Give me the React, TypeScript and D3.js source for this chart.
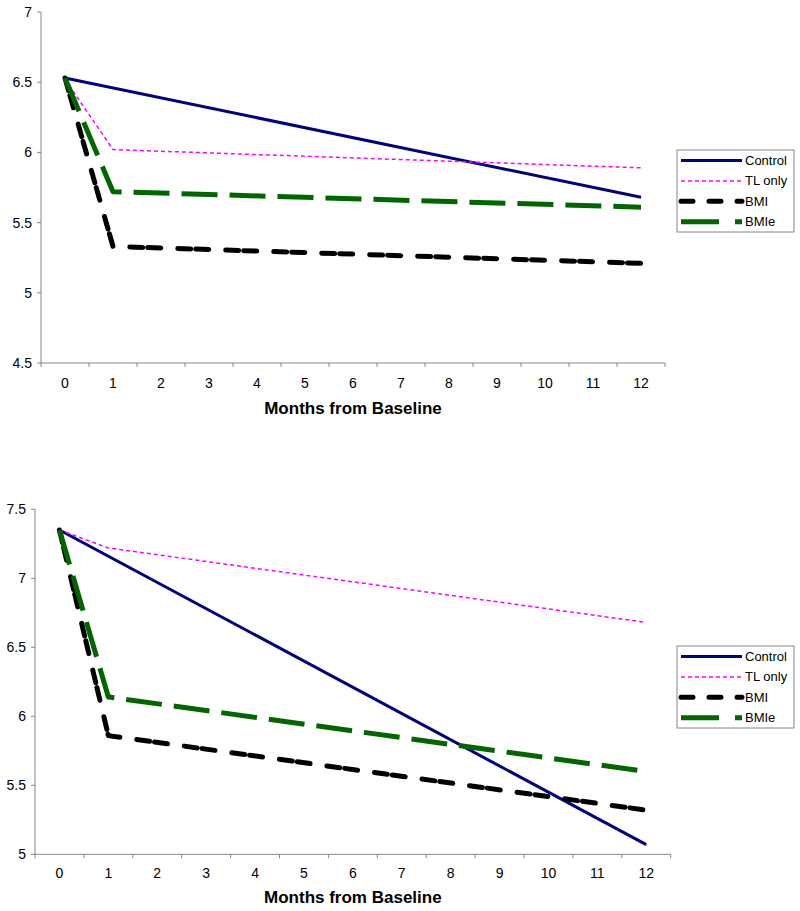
import React from "react";
import * as d3 from "d3";

const categories = ["0", "1", "2", "3", "4", "5", "6", "7", "8", "9", "10", "11", "12"];
const months = ["0", "1", "12"];
const seriesNames = ["Control", "TL only", "BMI", "BMIe"];

// Top panel
const topControl = [6.53, null, 5.68];
const topTL = [6.52, 6.02, 5.89];
const topBMI = [6.53, 5.33, 5.21];
const topBMIe = [6.53, 5.72, 5.61];
const topYTicks = [4.5, 5, 5.5, 6, 6.5, 7];

// Bottom panel
const botControl = [7.35, null, 5.07];
const botTL = [7.35, 7.22, 6.68];
const botBMI = [7.35, 5.86, 5.32];
const botBMIe = [7.35, 6.14, 5.6];
const botYTicks = [5, 5.5, 6, 6.5, 7, 7.5];

const styles = [
  { color: "#000080", width: 3, dash: "none", cap: "butt" },
  { color: "#ff00ff", width: 1.5, dash: "4,3", cap: "butt" },
  { color: "#000000", width: 5, dash: "13,5,13,17", cap: "round" },
  { color: "#006600", width: 5, dash: "36,12", cap: "butt" },
];
const legendDash = ["none", "4,3", "12,16", "38,16"];

const FONT = "Arial, 'Liberation Sans', sans-serif";

type PanelProps = {
  x0: number;
  x1: number;
  yTop: number;
  yBot: number;
  domain: [number, number];
  yTicks: number[];
  series: (number | null)[][];
  legendTop: number;
  labelY: number;
  titleY: number;
};

function Panel({ x0, x1, yTop, yBot, domain, yTicks, series, legendTop, labelY, titleY }: PanelProps) {
  const x = d3.scaleBand<string>().domain(categories).range([x0, x1]);
  const y = d3.scaleLinear().domain(domain).range([yBot, yTop]);
  const cx = (c: string) => (x(c) as number) + x.bandwidth() / 2;
  const line = d3
    .line<[string, number]>()
    .x((d) => cx(d[0]))
    .y((d) => y(d[1]));
  const edges = categories.map((_, i) => x0 + i * x.step()).concat([x1]);
  const legendX = 677;
  const legendW = 117;
  const rowH = 20.4;
  return (
    <g>
      <line x1={x0} x2={x0} y1={yTop} y2={yBot} stroke="#868686" strokeWidth={1} />
      <line x1={x0} x2={x1} y1={yBot} y2={yBot} stroke="#868686" strokeWidth={1} />
      {yTicks.map((t) => (
        <g key={t}>
          <line x1={x0 - 4} x2={x0} y1={y(t)} y2={y(t)} stroke="#868686" />
          <text x={x0 - 9} y={y(t) + 5} textAnchor="end" fontSize={14} fontFamily={FONT} fill="#000">
            {t}
          </text>
        </g>
      ))}
      {edges.map((e, i) => (
        <line key={i} x1={e} x2={e} y1={yBot} y2={yBot + 4} stroke="#868686" />
      ))}
      {categories.map((c) => (
        <text key={c} x={cx(c)} y={labelY} textAnchor="middle" fontSize={14} fontFamily={FONT} fill="#000">
          {c}
        </text>
      ))}
      <text x={(x0 + x1) / 2} y={titleY} textAnchor="middle" fontSize={17} fontWeight="bold" fontFamily={FONT}>
        Months from Baseline
      </text>
      {series.map((vals, i) => {
        const pts = months
          .map((m, j) => [m, vals[j]] as [string, number | null])
          .filter((d) => d[1] !== null) as [string, number][];
        const s = styles[i];
        return (
          <path
            key={i}
            d={line(pts) as string}
            fill="none"
            stroke={s.color}
            strokeWidth={s.width}
            strokeDasharray={s.dash}
            strokeLinecap={s.cap as any}
            strokeLinejoin="round"
          />
        );
      })}
      <rect x={legendX} y={legendTop} width={legendW} height={82} fill="#fff" stroke="#868686" strokeWidth={1} />
      {seriesNames.map((n, i) => {
        const s = styles[i];
        const ly = legendTop + 10.5 + i * rowH;
        return (
          <g key={n}>
            <line
              x1={681}
              x2={742}
              y1={ly}
              y2={ly}
              stroke={s.color}
              strokeWidth={s.width}
              strokeDasharray={legendDash[i]}
              strokeLinecap={s.cap as any}
            />
            <text x={745} y={ly + 4.5} fontSize={13} fontFamily={FONT} fill="#000">
              {n}
            </text>
          </g>
        );
      })}
    </g>
  );
}

export default function App() {
  return (
    <div style={{ position: "absolute", left: 0, top: 0 }}>
      <svg width={800} height={911} style={{ display: "block", background: "#fff" }}>
        <Panel
          x0={41}
          x1={665}
          yTop={12}
          yBot={363}
          domain={[4.5, 7]}
          yTicks={topYTicks}
          series={[topControl, topTL, topBMI, topBMIe]}
          legendTop={150}
          labelY={388}
          titleY={413.5}
        />
        <Panel
          x0={35}
          x1={670.7}
          yTop={509.3}
          yBot={854.3}
          domain={[5, 7.5]}
          yTicks={botYTicks}
          series={[botControl, botTL, botBMI, botBMIe]}
          legendTop={646}
          labelY={878}
          titleY={903}
        />
      </svg>
    </div>
  );
}
